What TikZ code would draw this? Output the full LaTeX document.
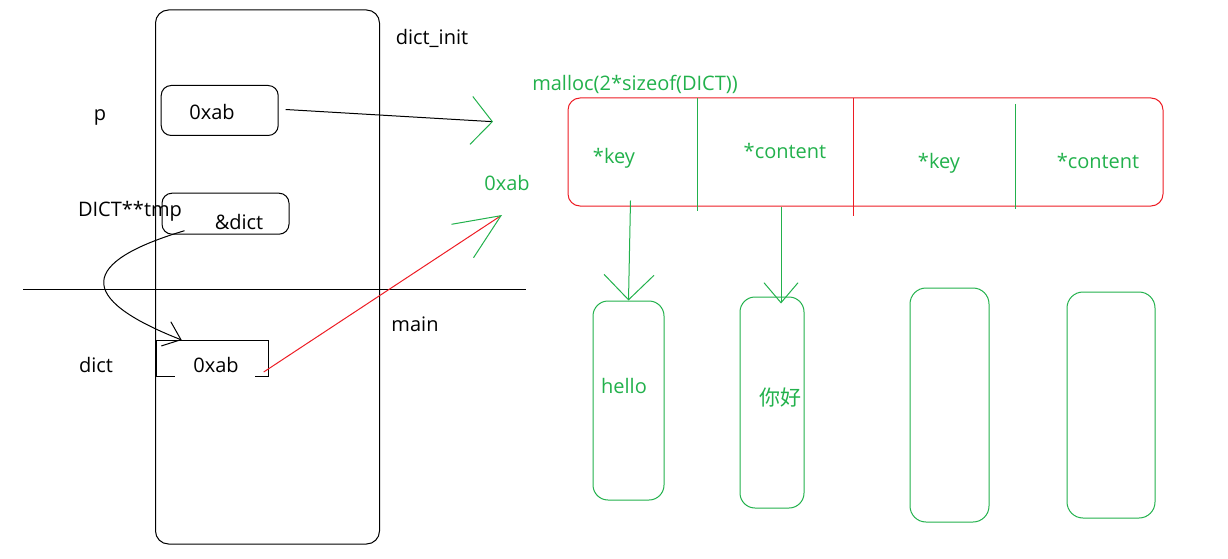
\documentclass[tikz,border=0pt]{standalone}
\usepackage{fontspec}
\setmainfont{Open Sans}
\newfontfamily\cjkfont{Noto Sans CJK SC}
\usepackage{tikz}
\usetikzlibrary{arrows.meta,calc}
\definecolor{pgreen}{RGB}{34,177,76}
\definecolor{pred}{RGB}{237,28,36}

\begin{document}
\begin{tikzpicture}[x=1pt, y=-1pt, line width=1pt, font=\fontsize{20}{24}\selectfont]
\tikzstyle{box}=[draw, inner sep=0pt, rounded corners=10pt]
\tikzstyle{gbox}=[draw=pgreen, inner sep=0pt, rounded corners=15pt]
\tikzstyle{lbl}=[anchor=base, inner sep=0pt]
\tikzstyle{glbl}=[lbl, text=pgreen]
\tikzstyle{garr}=[draw=pgreen]

\useasboundingbox (0,0) rectangle (1228,559);

% stack: dict_init above, main below
\node[box, rounded corners=13pt, minimum width=224pt, minimum height=534pt] (frame) at (267.5,277) {};
\node[lbl] (init) at (432,45) {dict\_init};
\node[lbl] (main) at (415,331.7) {main};
\coordinate (sl) at (23,289.3);
\coordinate (sr) at (526,289.3);
\draw (sl) -- (sr);

\node[lbl] (p) at (100,121) {p};
\node[box, minimum width=117pt, minimum height=50pt] (pbox) at (219.7,110.5) {};
\node[lbl] (pval) at (212,120) {0xab};

\node[lbl] (tmp) at (130,216.7) {DICT**tmp};
\node[box, minimum width=127pt, minimum height=41pt] (tmpbox) at (225.5,213.7) {};
\node[lbl] (tmpval) at (239,229.3) {\&dict};

\node[lbl] (dict) at (96,372.7) {dict};
\node[inner sep=0pt, minimum width=111pt, minimum height=35pt] (dbox) at (212.7,358) {};
\node[lbl] (dval) at (216,372.7) {0xab};
\draw ([xshift=18pt]dbox.south west) -- (dbox.south west) -- (dbox.north west) -- (dbox.north east) -- (dbox.south east) -- ([xshift=-14pt]dbox.south east);

\draw[-{Straight Barb[length=16pt, width=26pt]}] ([xshift=23pt, yshift=4pt]tmpbox.south west) .. controls (80,262) and (75,298) .. ([xshift=25pt]dbox.north west);

% pointers into the heap
\coordinate (ptip) at (493,121.7);
\coordinate (rtip) at (502,215);
\draw[-{Straight Barb[pgreen, length=21pt, width=48pt]}] ([xshift=7pt, yshift=1pt]pbox.east) -- (ptip);
\draw[pred, -{Straight Barb[pgreen, length=46pt, width=40pt]}] ([xshift=-5pt, yshift=4pt]dbox.south east) -- (rtip);
\node[glbl] (ptr) at (507,190.7) {0xab};

% malloc'd array of two DICT
\node[glbl] (malloc) at (635,91) {malloc(2*sizeof(DICT))};
\node[draw=pred, inner sep=0pt, rounded corners=12pt, minimum width=595pt, minimum height=108pt] (arr) at (865.5,152) {};
\draw[pgreen] (697,98) -- (697,211);
\draw[pred] (853,98) -- (853,216);
\draw[pgreen] (1015,104) -- (1015,209);
\node[glbl] (key1) at (614,163.5) {*key};
\node[glbl] (val1) at (785,158) {*content};
\node[glbl] (key2) at (939,168.5) {*key};
\node[glbl] (val2) at (1098,168.3) {*content};

\node[gbox, minimum width=71pt, minimum height=199pt] (hbox) at (628.5,400.5) {};
\node[glbl] (hello) at (624,393) {hello};
\node[gbox, minimum width=64pt, minimum height=211pt] (nbox) at (772,402.5) {};
\node[text=pgreen, inner sep=0pt, font=\cjkfont\fontsize{21}{24}\selectfont] (nihao) at (780,398) {你好};
\node[gbox, rounded corners=16pt, minimum width=79pt, minimum height=234pt] (ebox1) at (949.5,405) {};
\node[gbox, rounded corners=16pt, minimum width=88pt, minimum height=226pt] (ebox2) at (1111,405) {};

\draw[garr, -{Straight Barb[length=25pt, width=50pt]}] ($(arr.south -| hbox.north)+(2,-6)$) -- (hbox.north);
\draw[garr, -{Straight Barb[length=20pt, width=34pt]}] ($(arr.south -| nbox.north)+(9,0)$) -- ($(nbox.north)+(9,7)$);

\end{tikzpicture}
\end{document}
